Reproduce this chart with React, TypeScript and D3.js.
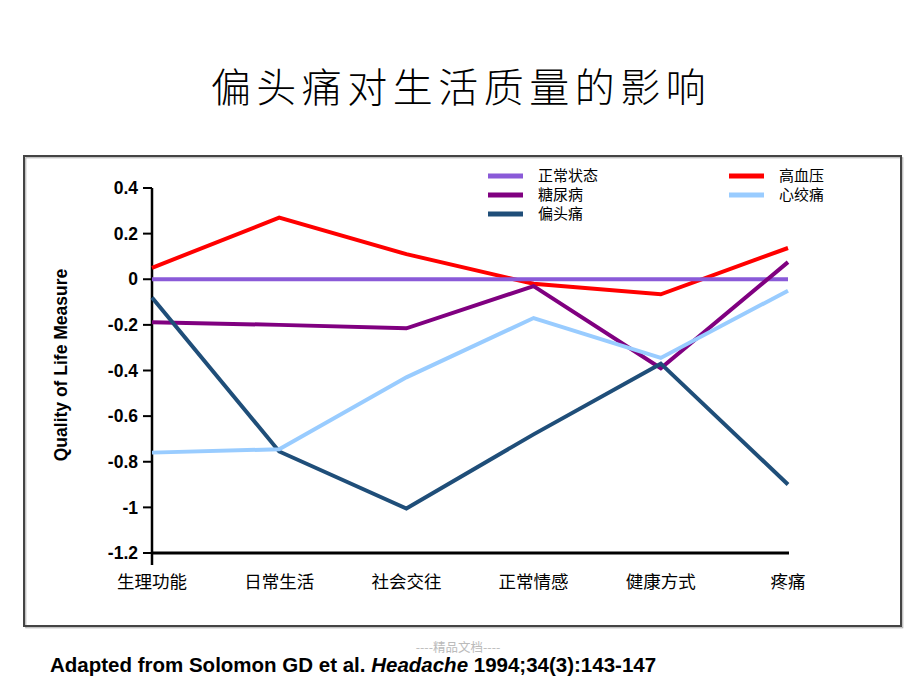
import React from "react";
import * as d3 from "d3";

const categories = ["生理功能", "日常生活", "社会交往", "正常情感", "健康方式", "疼痛"];
const normalValues = [0, 0, 0, 0, 0, 0];
const hypertensionValues = [0.05, 0.27, 0.11, -0.02, -0.066, 0.137];
const diabetesValues = [-0.188, -0.2, -0.215, -0.03, -0.39, 0.075];
const migraineValues = [-0.08, -0.755, -1.005, -0.68, -0.37, -0.9];
const anginaValues = [-0.76, -0.745, -0.43, -0.17, -0.345, -0.05];
const yTicks = [0.4, 0.2, 0, -0.2, -0.4, -0.6, -0.8, -1, -1.2];
const yTickLabels = ["0.4", "0.2", "0", "-0.2", "-0.4", "-0.6", "-0.8", "-1", "-1.2"];

const seriesNames = ["正常状态", "糖尿病", "偏头痛", "高血压", "心绞痛"];
const title = "偏头痛对生活质量的影响";
const yAxisTitle = "Quality of Life Measure";

const colors: Record<string, string> = {
  正常状态: "#8A5AD8",
  糖尿病: "#800080",
  偏头痛: "#1F4E79",
  高血压: "#FF0000",
  心绞痛: "#99CCFF",
};

export default function App() {
  const x = d3.scalePoint<string>().domain(categories).range([152, 788]);
  const y = d3.scaleLinear().domain([-1.2, 0.4]).range([553, 188]);
  const line = d3
    .line<number>()
    .x((_, i) => x(categories[i]) as number)
    .y((d) => y(d));

  const series: { name: string; values: number[] }[] = [
    { name: "高血压", values: hypertensionValues },
    { name: "正常状态", values: normalValues },
    { name: "糖尿病", values: diabetesValues },
    { name: "偏头痛", values: migraineValues },
    { name: "心绞痛", values: anginaValues },
  ];

  const legendItems = [
    { name: seriesNames[0], col: 0, row: 0 },
    { name: seriesNames[1], col: 0, row: 1 },
    { name: seriesNames[2], col: 0, row: 2 },
    { name: seriesNames[3], col: 1, row: 0 },
    { name: seriesNames[4], col: 1, row: 1 },
  ];

  const sans = "'Liberation Sans', Arial, sans-serif";
  const cjk = "'Noto Sans CJK SC', sans-serif";

  return (
    <svg
      width={920}
      height={690}
      style={{ position: "absolute", left: 0, top: 0, background: "#fff" }}
    >
      <rect x={0} y={0} width={920} height={690} fill="#fff" />
      <text
        x={461}
        y={102}
        textAnchor="middle"
        fontFamily={cjk}
        fontWeight={300}
        fontSize={40}
        letterSpacing={5.5}
        fill="#000"
      >
        {title}
      </text>

      {/* frame */}
      <rect x={25} y={157} width={877} height={470} fill="none" stroke="#aaa" strokeWidth={1} transform="translate(0.8,0.8)" />
      <rect x={24} y={156} width={877} height={470} fill="none" stroke="#444" strokeWidth={2} />

      {/* y axis */}
      <line x1={152} x2={152} y1={y(0.4)} y2={565} stroke="#000" strokeWidth={2.5} />
      {yTicks.map((t, i) => (
        <g key={t}>
          <line x1={143} x2={152} y1={y(t)} y2={y(t)} stroke="#000" strokeWidth={2} />
          <text
            x={138}
            y={y(t)}
            dy="0.35em"
            textAnchor="end"
            fontFamily={sans}
            fontWeight="bold"
            fontSize={17.5}
            fill="#000"
          >
            {yTickLabels[i]}
          </text>
        </g>
      ))}
      <line x1={151} x2={789} y1={y(-1.2)} y2={y(-1.2)} stroke="#000" strokeWidth={3} />

      <text
        transform={`translate(67,365) rotate(-90)`}
        textAnchor="middle"
        fontFamily={sans}
        fontWeight="bold"
        fontSize={17.5}
        fill="#000"
      >
        {yAxisTitle}
      </text>

      {/* x labels */}
      {categories.map((c) => (
        <text
          key={c}
          x={x(c) as number}
          y={588}
          textAnchor="middle"
          fontFamily={cjk}
          fontSize={17.5}
          fill="#000"
        >
          {c}
        </text>
      ))}

      {/* lines */}
      {series.map((s) => (
        <path
          key={s.name}
          d={line(s.values) as string}
          fill="none"
          stroke={colors[s.name]}
          strokeWidth={4}
          strokeLinejoin="miter"
        />
      ))}

      {/* legend */}
      {legendItems.map((it) => {
        const lx = it.col === 0 ? 488 : 729;
        const ly = 176 + it.row * 19;
        return (
          <g key={it.name}>
            <line x1={lx} x2={lx + 35} y1={ly} y2={ly} stroke={colors[it.name]} strokeWidth={5} />
            <text
              x={lx + 50}
              y={ly}
              dy="0.36em"
              fontFamily={cjk}
              fontSize={15}
              fill="#000"
            >
              {it.name}
            </text>
          </g>
        );
      })}

      {/* watermark */}
      <text x={458} y={652} textAnchor="middle" fontFamily={cjk} fontSize={12.5} fill="#bbb">
        ----精品文档----
      </text>

      {/* citation */}
      <text x={50} y={672} fontFamily={sans} fontWeight="bold" fontSize={20.5} fill="#000">
        Adapted from Solomon GD et al. <tspan fontStyle="italic">Headache</tspan> 1994;34(3):143-147
      </text>
    </svg>
  );
}
